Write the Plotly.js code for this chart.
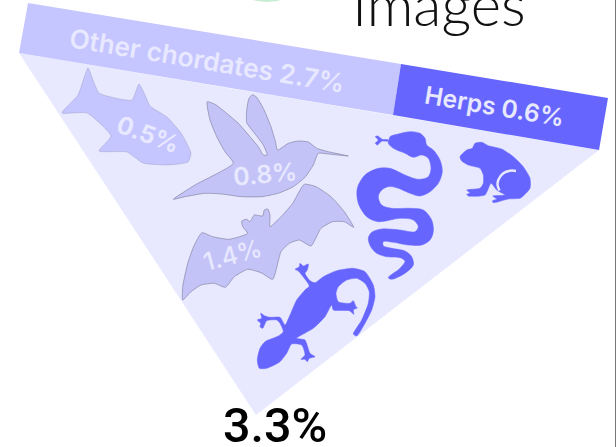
<!DOCTYPE html>
<html>
<head>
<meta charset="utf-8">
<script src="https://cdn.plot.ly/plotly-3.0.1.min.js"></script>
<style>html,body{margin:0;padding:0;background:#fff;overflow:hidden}#chart{width:616px;height:447px}</style>
</head>
<body>
<div id="chart"></div>
<script>
// Share of species by group, in percent
const groups = ["Other chordates", "Herps"];
const groupValues = [2.7, 0.6];
const animalValues = { fish: 0.5, bird: 0.8, bat: 1.4 };
const totalValue = 3.3;
const headline = "Images";

// Funnel wedge and the two header bands
const wedgeX = [19, 599, 256];
const wedgeY = [53, 150, 415];
const bandLeftX = [28, 401, 393, 19];
const bandLeftY = [3, 64, 115, 53];
const bandRightX = [401, 608, 599, 393];
const bandRightY = [64, 98, 150, 115];
const arcX = [248, 257, 267, 277, 284];
const arcY = [-1, 1, 2, 1, -1];
const edgeX = [615.5, 615.5];
const edgeY = [0, 447];

// Animal silhouettes
const fishX = [88,93,99,115,132,139,145,150,167,181,191,188,167,143,127,99,111,87,62,78];
const fishY = [68,80,93,98,100,84,95,106,117,133,153,162,165,163,152,151,136,113,113,95];

const birdX = [173.3,195,233.3,225,216.7,210,207.3,207.3,215,226.7,238.3,250,258.3,263.3,267.3,263.3,253.3,246.7,246.7,249,252.7,256.7,263.3,271,275,277.7,288.3,298.3,308.3,316.7,328.3,348.3,328.3,318.3,313.3,305,293.3,278.3,261.7,241.7,221.7,205,185];
const birdY = [199.3,185,163.3,151.7,136.7,120,106.7,101.7,104.3,113.3,123.3,136.7,146.7,155,155,145,131.7,122.7,110,98.3,94.7,97.3,108.3,126.7,140,150,143.3,141,142,148.3,151.7,156,154,153.3,165,177.3,186.7,193.3,196.7,196.7,194,193.3,196.7];

const batX = [304.3,316,331,344.3,353.7,344.3,332.7,321,311,299.3,289.3,281,272.7,261,247.7,234.3,225.3,214.3,201,191,182.7,182.7,187.7,194.3,202,212.7,229.3,247.7,242.7,241.7,246.7,250,254.3,262.7,264.3,267.7,270,270,282.7,292.7];
const batY = [184.3,186.7,196.7,211.7,227.3,221.7,221.7,228.3,246,240,243.3,251.7,279.3,272.7,269.3,276.7,287.3,283.3,285,291.7,300,286.7,263.3,245,232.7,236.7,239.3,233.3,226.7,221,219.3,221.7,215,216,210,209,215,226.7,215,203.3];

const snakeX = [388.3,382.3,377.7,375.3,378.3,375.3,377.3,381.7,388.3,390,398.3,410,420,425,426.7,433.3,440,442.3,438.3,430,420,410,396.7,388.3,381.7,378.3,381.7,391.7,410,423.3,431.7,433.3,430,421.7,408.3,393.3,383.3,383.3,391.7,405,411.7,413.3,405,391.7,388.3,400,405,400,386.7,376.7,370.7,368.3,371.7,381.7,400,415,418.3,413.3,400,378.3,366.7,358.3,357.3,365,378.3,390,405,418.3,428.3,431,428.3,421.7,413.3,405,393.3,388.3];
const snakeY = [140,139.3,136,136.7,140,143.3,145,141.3,141,136.7,134,131.7,133.3,138.3,145,150,160,171.7,183.3,191.7,196,193.3,187.7,186.7,190,196.7,205,208.3,208.3,210,220,231.7,240,245,245,242.3,241.7,245.7,248.3,251,256.7,265,273.3,279.3,277.7,268.3,261,257.7,256.7,253.3,246.7,238.3,232.3,229,230,231.7,226.7,220,218.3,221.7,216.7,203.3,188.3,175,168.3,168.3,175,179.3,176.7,168.3,158.3,155,157.3,153.3,148.3,143.3];

const frogX = [460,466.7,472.3,475,481.7,488.3,501.7,513.3,523.3,530,530,523.3,520,508.3,493.3,492.3,496.7,492.7,505,496.7,491,485,468.3,466.7,470,466.7,480,483.3,483.3,480,468.3,461.7];
const frogY = [156.7,150,148.3,143.3,142.3,145.7,149,156.7,166.7,178.3,188.3,196,198.3,199,202.7,201,199,196,195,190,183.3,195,196,194.3,193,190,188.3,183.3,175,168.3,165,161];
const frogLegX = [499.5,497.7,498.3,503.3,510,516];
const frogLegY = [190.5,185.7,180,173.3,170.7,171];

const geckoX = [257.3,260,265,278.3,283.3,280,276.7,266.7,262.7,260,260.7,257.3,261.7,260.7,265,270,280,285,290,296.7,305,309.3,301.7,298.3,295,299.3,300,303.3,308.3,307.3,305,310,315,323.3,336.7,353.3,365,373.3,375,371.7,365,356.7,353.3,361.7,368.3,369.3,365,356.7,346.7,338.3,336,338.3,350,353.3,356,357.3,353.3,354,349.3,333.3,331.7,325,313.3,296.7,305,310,315,309.3,307.3,305,301,305,301.7,291.7,286.7,280,266.7,259.3];
const geckoY = [360,348.3,341.7,336,331.7,323.3,320,320.7,328.3,326.7,323.3,320,318.3,313.3,316,317.3,317.3,325,315,300,290,286,275,271,269.3,266.7,263.3,266,264,270,273.3,280.7,282.7,276.7,270.7,268.3,271.7,285,296.7,310,323.3,336,334,320,303.3,291.7,283.3,278.3,280,286.7,293.3,301.7,303.3,300.7,306.7,307.7,310,314.3,310.7,310,305,316.7,328.3,338.3,340,353.3,356.7,358.3,361.7,359.3,359.3,355,345,344,353.3,361.7,368.3,368.3];

// Palette
const paleViolet = "#e8e8ff";
const softViolet = "#c5c5ff";
const strongViolet = "#6666ff";
const softOutline = "rgba(120,120,150,0.75)";

function area(x, y, fill, outline, width, smoothing) {
  return {
    x: x, y: y, type: "scatter", mode: "lines", fill: "toself", fillcolor: fill,
    line: {
      color: outline || fill, width: width === undefined ? 0 : width,
      shape: smoothing ? "spline" : "linear", smoothing: smoothing || 0
    },
    hoverinfo: "skip", showlegend: false
  };
}
function stroke(x, y, color, width, smoothing) {
  return { x: x, y: y, type: "scatter", mode: "lines",
    line: { color: color, width: width, shape: smoothing ? "spline" : "linear", smoothing: smoothing || 0 },
    hoverinfo: "skip", showlegend: false };
}
function closed(a) { return a.concat([a[0]]); }

const traces = [
  area(arcX, arcY, "#c8ecd0"),
  area(wedgeX, wedgeY, paleViolet),
  area(bandLeftX, bandLeftY, softViolet),
  area(bandRightX, bandRightY, strongViolet),
  area(closed(fishX), closed(fishY), softViolet, "rgba(120,120,150,0.45)", 0.6, 0.5),
  area(closed(birdX), closed(birdY), "#c3c3f8", softOutline, 0.8, 0.5),
  area(closed(batX), closed(batY), "#c3c3f8", softOutline, 0.8, 0.5),
  area(closed(snakeX), closed(snakeY), strongViolet, strongViolet, 0.5, 0.9),
  area(closed(frogX), closed(frogY), strongViolet, strongViolet, 0.5, 0.6),
  stroke(frogLegX, frogLegY, paleViolet, 2.5, 1),
  area(closed(geckoX), closed(geckoY), strongViolet, strongViolet, 0.5, 0.6),
  stroke(edgeX, edgeY, "#777777", 1)
];

function pct(v) { return v.toFixed(1) + "%"; }
function label(text, x, y, size, angle, color, family, weight) {
  return {
    text: text, x: x, y: y, xref: "x", yref: "y", showarrow: false,
    textangle: angle, xanchor: "center", yanchor: "middle",
    font: { family: family, size: size, color: color, weight: weight || 400 }
  };
}
const wide = "Inter, 'Open Sans', sans-serif";

const annotations = [
  label(headline, 439, 3, 58, 0, "#111111", "Lato, sans-serif", 300),
  label(groups[0] + " " + pct(groupValues[0]), 207, 60, 26.3, 9.5, paleViolet, wide, 600),
  label(groups[1] + " " + pct(groupValues[1]), 494, 106, 24.6, 9.5, paleViolet, wide, 600),
  label(pct(animalValues.fish), 148, 134, 24.5, 20, paleViolet, wide, 700),
  label(pct(animalValues.bird), 265, 174, 25, -5, paleViolet, wide, 600),
  label(pct(animalValues.bat), 232, 255, 25, -15, paleViolet, wide, 500),
  label(pct(totalValue), 275, 425, 48.5, 0, "#000000", "Roboto, 'Liberation Sans', sans-serif", 500)
];

const layout = {
  width: 616, height: 447,
  margin: { l: 0, r: 0, t: 0, b: 0 },
  paper_bgcolor: "#ffffff", plot_bgcolor: "#ffffff",
  xaxis: { range: [0, 616], visible: false, fixedrange: true },
  yaxis: { range: [447, 0], visible: false, fixedrange: true },
  showlegend: false,
  annotations: annotations
};

Plotly.newPlot("chart", traces, layout, { displayModeBar: false, staticPlot: true });
</script>
</body>
</html>
